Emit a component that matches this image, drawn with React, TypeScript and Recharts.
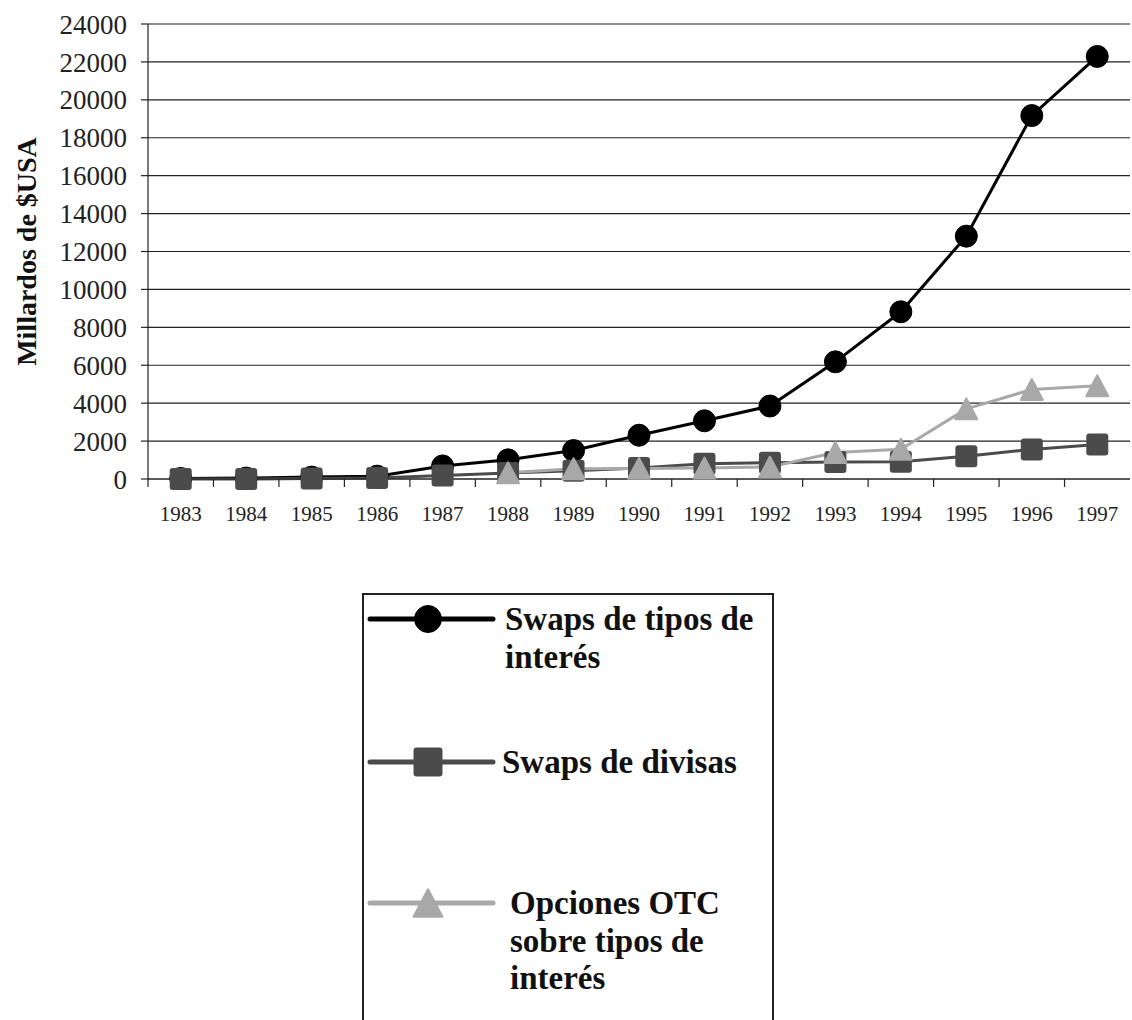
import { LineChart, Line, XAxis, YAxis, CartesianGrid, Legend } from 'recharts';

const YEARS = ['1983', '1984', '1985', '1986', '1987', '1988', '1989', '1990', '1991', '1992', '1993', '1994', '1995', '1996', '1997'];
const SWAPS_TIPOS = [30, 50, 100, 150, 690, 1010, 1500, 2310, 3070, 3850, 6180, 8820, 12810, 19170, 22290];
const SWAPS_DIVISAS = [0, 0, 20, 50, 180, 320, 430, 580, 810, 860, 900, 915, 1200, 1560, 1820];
const OPCIONES_OTC = [null, null, null, null, null, 330, 540, 560, 580, 635, 1400, 1570, 3700, 4720, 4920];
const Y_TICKS = [0, 2000, 4000, 6000, 8000, 10000, 12000, 14000, 16000, 18000, 20000, 22000, 24000];

const SERIES = [
    { key: 'tipos', name: 'Swaps de tipos de interés', lines: ['Swaps de tipos de', 'interés'], color: '#000000', shape: 'circle' },
    { key: 'divisas', name: 'Swaps de divisas', lines: ['Swaps de divisas'], color: '#4b4b4b', shape: 'square' },
    { key: 'otc', name: 'Opciones OTC sobre tipos de interés', lines: ['Opciones OTC', 'sobre tipos de', 'interés'], color: '#a8a8a8', shape: 'triangle' },
];

const data = YEARS.map((year, i) => ({
    year,
    tipos: SWAPS_TIPOS[i],
    divisas: SWAPS_DIVISAS[i],
    otc: OPCIONES_OTC[i],
}));

const FONT = "'Liberation Serif', 'Times New Roman', serif";
const WIDTH = 1132;
const HEIGHT = 1020;
const PLOT_LEFT = 148;
const PLOT_RIGHT = 1130;
const HALF_BAND = (PLOT_RIGHT - PLOT_LEFT) / YEARS.length / 2;

function Marker({ shape, cx, cy, size, color }: { shape: string; cx: number; cy: number; size: number; color: string }) {
    if (shape === 'circle') return <circle cx={cx} cy={cy} r={size / 2} fill={color} stroke={color} />;
    if (shape === 'square')
        return <rect x={cx - size / 2} y={cy - size / 2} width={size} height={size} rx={3} fill={color} />;
    const h = size * 0.95;
    return (
        <polygon
            points={`${cx},${cy - h / 2} ${cx + size / 2},${cy + h / 2} ${cx - size / 2},${cy + h / 2}`}
            fill={color}
            stroke={color}
            strokeLinejoin="round"
            strokeWidth={2}
        />
    );
}

const makeDot = (shape: string, color: string) => (props: any) => {
    const { cx, cy, index } = props;
    if (cx == null || cy == null || props.value == null) return <g key={`d-${shape}-${index}`} />;
    return (
        <g key={`d-${shape}-${index}`}>
            <Marker shape={shape} cx={cx} cy={cy} size={22} color={color} />
        </g>
    );
};

const XTick = (props: any) => {
    const { x, y, payload } = props;
    return (
        <g>
            <line x1={x - HALF_BAND} x2={x - HALF_BAND} y1={y} y2={y + 8} stroke="#222" strokeWidth={1.2} />
            <text x={x} y={y + 42} textAnchor="middle" fontFamily={FONT} fontSize={21} fill="#222">
                {payload.value}
            </text>
        </g>
    );
};

const YLabel = (props: any) => {
    const vb = props.viewBox;
    const x = 26;
    const y = vb.y + vb.height / 2;
    return (
        <text
            x={x}
            y={y}
            transform={`rotate(-90, ${x}, ${y})`}
            textAnchor="middle"
            dominantBaseline="central"
            fontFamily={FONT}
            fontWeight="bold"
            fontSize={28}
            fill="#111"
        >
            Millardos de $USA
        </text>
    );
};

const ROW_Y = [26, 169, 310];
const ROW_TEXT_X = [143, 140, 148];

const LegendBox = () => (
    <svg width={412} height={440} style={{ display: 'block' }}>
        <rect x={1} y={1} width={410} height={460} fill="#fff" stroke="#222" strokeWidth={2} />
        {SERIES.map((s, i) => (
            <g key={s.key}>
                <line x1={8} x2={131} y1={ROW_Y[i]} y2={ROW_Y[i]} stroke={s.color} strokeWidth={5} strokeLinecap="round" />
                <Marker shape={s.shape} cx={66} cy={ROW_Y[i]} size={s.shape === 'circle' ? 27 : 29} color={s.color} />
                <text fontFamily={FONT} fontWeight="bold" fontSize={33} fill="#111">
                    {s.lines.map((t, j) => (
                        <tspan key={j} x={ROW_TEXT_X[i]} y={ROW_Y[i] + 11 + j * 37.5}>
                            {t}
                        </tspan>
                    ))}
                </text>
            </g>
        ))}
    </svg>
);

export default function App() {
    return (
        <div style={{ position: 'absolute', left: 0, top: 0, width: WIDTH, height: HEIGHT, background: '#fff' }}>
            <LineChart width={WIDTH} height={HEIGHT} data={data} margin={{ top: 24, right: WIDTH - PLOT_RIGHT, left: 0, bottom: 501 }}>
                <CartesianGrid vertical={false} stroke="#222" strokeWidth={1.2} />
                <XAxis
                    dataKey="year"
                    height={40}
                    padding={{ left: HALF_BAND, right: HALF_BAND }}
                    tickSize={0}
                    tickMargin={0}
                    tickLine={false}
                    axisLine={{ stroke: '#222', strokeWidth: 1.2 }}
                    tick={XTick}
                    interval={0}
                />
                <YAxis
                    width={PLOT_LEFT}
                    domain={[0, 24000]}
                    ticks={Y_TICKS}
                    interval={0}
                    tickSize={7}
                    tickMargin={14}
                    axisLine={{ stroke: '#222', strokeWidth: 1.2 }}
                    tickLine={{ stroke: '#222', strokeWidth: 1.2 }}
                    tick={{ fontFamily: FONT, fontSize: 27, fill: '#222' }}
                    label={<YLabel />}
                />
                <Legend
                    layout="vertical"
                    align="center"
                    verticalAlign="middle"
                    content={() => <LegendBox />}
                    wrapperStyle={{ left: 362, top: 593, width: 412, height: 440 }}
                />
                {SERIES.map(s => (
                    <Line
                        key={s.key}
                        type="linear"
                        dataKey={s.key}
                        name={s.name}
                        stroke={s.color}
                        strokeWidth={3}
                        dot={makeDot(s.shape, s.color)}
                        activeDot={false}
                        isAnimationActive={false}
                    />
                ))}
            </LineChart>
        </div>
    );
}
